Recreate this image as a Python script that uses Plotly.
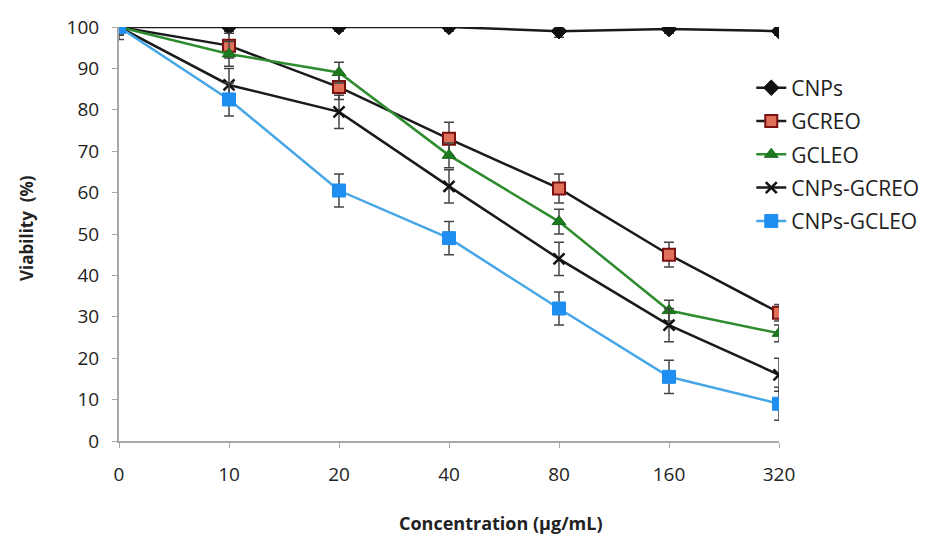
import plotly.graph_objects as go

categories = ["0", "10", "20", "40", "80", "160", "320"]

series_names = ["CNPs", "GCREO", "GCLEO", "CNPs-GCREO", "CNPs-GCLEO"]
cnps = [100, 100, 100, 100, 99, 99.5, 99]
gcreo = [100, 95.5, 85.5, 73, 61, 45, 31]
gcleo = [100, 93.5, 89, 69, 53, 31.5, 26]
cnps_gcreo = [100, 86, 79.5, 61.5, 44, 28, 16]
cnps_gcleo = [100, 82.5, 60.5, 49, 32, 15.5, 9]

err_cnps = [1, 1, 1, 1, 1.5, 1, 1]
err_gcreo = [2, 3, 3, 4, 3.5, 3, 2]
err_gcleo = [2, 3, 2.5, 3, 3, 2.5, 2]
err_cnps_gcreo = [3, 4, 4, 4, 4, 4, 4]
err_cnps_gcleo = [2, 4, 4, 4, 4, 4, 4]

styles = [
    dict(line="#1a1a1a", marker=dict(symbol="diamond", size=12, color="#111111", line=dict(color="#111111", width=1))),
    dict(line="#1a1a1a", marker=dict(symbol="square", size=12, color="#e0705a", line=dict(color="#7a1010", width=2))),
    dict(line="#2e8b2e", marker=dict(symbol="triangle-up", size=12, color="#1d7a1d", line=dict(color="#1d6a1d", width=1))),
    dict(line="#1a1a1a", marker=dict(symbol="x-thin", size=11, color="#111111", line=dict(color="#111111", width=2.5))),
    dict(line="#46a6e6", marker=dict(symbol="square", size=13, color="#1e8ef0", line=dict(color="#1e8ef0", width=1))),
]

data = [cnps, gcreo, gcleo, cnps_gcreo, cnps_gcleo]
errs = [err_cnps, err_gcreo, err_gcleo, err_cnps_gcreo, err_cnps_gcleo]

fig = go.Figure()
for i, (name, ys, er, st) in enumerate(zip(series_names, data, errs, styles)):
    fig.add_trace(go.Scatter(
        x=categories, y=ys, name=name, mode="lines+markers",
        line=dict(color=st["line"], width=2.5),
        marker=st["marker"],
        error_y=dict(type="data", array=er, visible=True, color="#444444", thickness=1.5, width=5),
        legendgroup=name,
    ))

W, H = 913, 529
L, R, T, B = 111, 142, 19, 96
pw = W - L - R
ph = H - T - B

font_family = "Open Sans, Liberation Sans, sans-serif"
fig.update_layout(
    width=W, height=H,
    margin=dict(l=L, r=R, t=T, b=B, autoexpand=False),
    paper_bgcolor="white", plot_bgcolor="white",
    font=dict(family=font_family, size=19, color="#222222"),
    showlegend=True,
    legend=dict(x=0.958, y=0.902, xanchor="left", yanchor="top",
                font=dict(size=21, color="#222222"),
                traceorder="grouped", tracegroupgap=3,
                bgcolor="rgba(0,0,0,0)"),
    xaxis=dict(type="category", range=[0, 6], showgrid=False, zeroline=False,
               showline=True, linecolor="#a8a8a8", linewidth=2,
               ticks="outside", ticklen=5, tickcolor="#a8a8a8",
               ticklabelstandoff=10, automargin=False,
               tickfont=dict(size=19)),
    yaxis=dict(range=[0, 100], dtick=10, showgrid=False, zeroline=False,
               showline=True, linecolor="#a8a8a8", linewidth=2,
               ticks="outside", ticklen=5, tickcolor="#a8a8a8",
               ticklabelstandoff=9, automargin=False,
               tickfont=dict(size=19)),
    annotations=[
        dict(text="<b>Concentration (μg/mL)</b>", x=(493 - L) / pw, y=(H - 515 - B) / ph,
             xref="paper", yref="paper", xanchor="center", yanchor="middle",
             showarrow=False, font=dict(size=18)),
        dict(text="<b>Viability  (%)</b>", textangle=-90, x=(18 - L) / pw, y=(H - 220 - B) / ph,
             xref="paper", yref="paper", xanchor="center", yanchor="middle",
             showarrow=False, font=dict(size=17)),
    ],
)

fig.write_html("out.html")
